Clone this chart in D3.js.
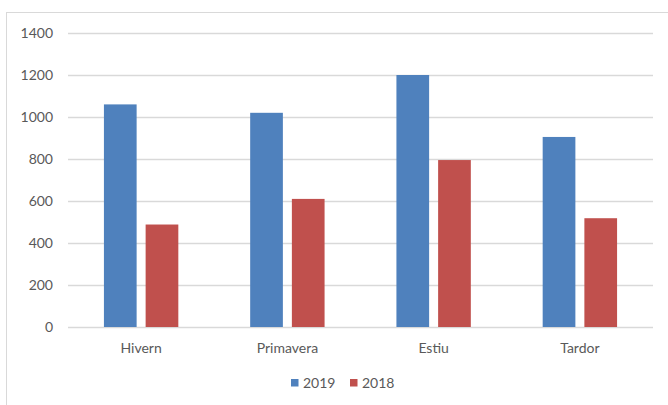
<!DOCTYPE html>
<html>
<head>
<meta charset="utf-8">
<script src="https://cdn.jsdelivr.net/npm/d3@7"></script>
<style>
  body { margin: 0; background: #fff; }
  text { font-family: Lato, "Open Sans", sans-serif; fill: #595959; }
</style>
</head>
<body>
<script>
// chart data
const seasons = ["Hivern", "Primavera", "Estiu", "Tardor"];
const years = ["2019", "2018"];
const values2019 = [1060, 1020, 1200, 905];
const values2018 = [488, 610, 795, 518];
const yTicks = [0, 200, 400, 600, 800, 1000, 1200, 1400];
const colors = ["#4f81bd", "#c0504d"];

const w = 668, h = 405;
const plotLeft = 68, plotRight = 653, plotTop = 33, plotBottom = 327;

const svg = d3.select("body").append("svg")
  .attr("width", w)
  .attr("height", h);

// chart border
svg.append("rect")
  .attr("x", 6.5).attr("y", 12.5)
  .attr("width", 680).attr("height", 420)
  .attr("fill", "none")
  .attr("stroke", "#d9d9d9");

const yScale = d3.scaleLinear().domain([0, 1400]).range([plotBottom, plotTop]);
const xScale = d3.scaleBand().domain(seasons).range([plotLeft, plotRight]);

// gridlines
svg.selectAll(".grid")
  .data(yTicks)
  .enter().append("line")
  .attr("x1", plotLeft).attr("x2", plotRight)
  .attr("y1", d => Math.round(yScale(d)) + 0.5)
  .attr("y2", d => Math.round(yScale(d)) + 0.5)
  .attr("stroke", "#d9d9d9")
  .attr("stroke-width", 1.3);

const yAxis = d3.axisLeft(yScale).tickValues(yTicks).tickFormat(d3.format("d")).tickSize(0).tickPadding(15);
svg.append("g")
  .attr("transform", "translate(" + plotLeft + ",0)")
  .call(yAxis)
  .call(g => g.select(".domain").remove())
  .selectAll("text")
  .style("font-size", "14px")
  .style("font-family", "Lato, sans-serif")
  .attr("fill", "#595959");

const xAxis = d3.axisBottom(xScale).tickSize(0).tickPadding(16);
svg.append("g")
  .attr("transform", "translate(0," + plotBottom + ")")
  .call(xAxis)
  .call(g => g.select(".domain").remove())
  .selectAll("text")
  .style("font-size", "14px")
  .style("font-family", "Lato, sans-serif")
  .attr("fill", "#595959");

// bars
const barW = 32.7, gap = 9;
const series = [values2019, values2018];
series.forEach((vals, s) => {
  svg.selectAll(".bar" + s)
    .data(vals)
    .enter().append("rect")
    .attr("x", (d, i) => xScale(seasons[i]) + xScale.bandwidth() / 2 - barW - gap / 2 + s * (barW + gap))
    .attr("y", d => yScale(d))
    .attr("width", barW)
    .attr("height", d => plotBottom - yScale(d))
    .attr("fill", colors[s]);
});

// legend
const legend = svg.append("g").attr("transform", "translate(291,383)");
const legX = [0, 59];
years.forEach((y, i) => {
  legend.append("rect")
    .attr("x", legX[i]).attr("y", -4)
    .attr("width", 7.5).attr("height", 7.5)
    .attr("fill", colors[i]);
  legend.append("text")
    .attr("x", legX[i] + 12).attr("y", 0)
    .attr("dy", "0.35em")
    .style("font-size", "14px")
    .text(y);
});
</script>
</body>
</html>
